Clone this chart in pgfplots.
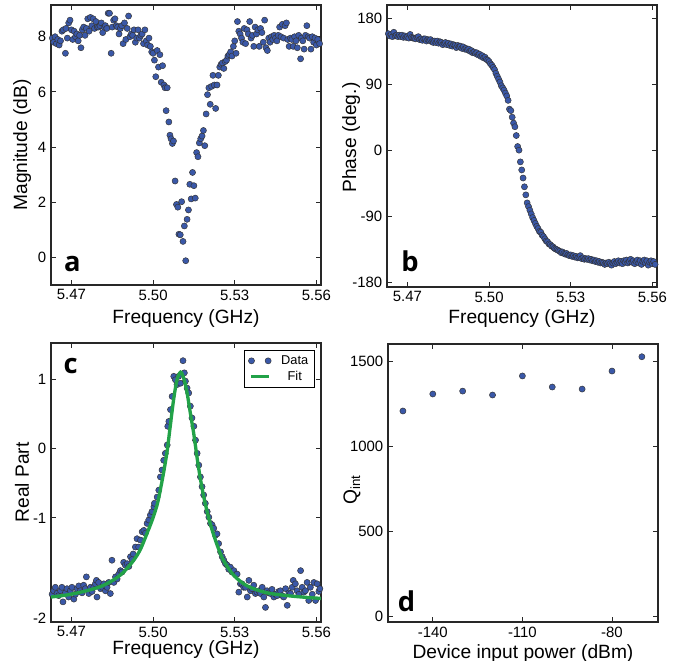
\documentclass[border=0pt]{standalone}
\usepackage{pgfplots}
\pgfplotsset{compat=1.18}
\usepackage{fontspec}
\setmainfont{Liberation Sans}
\newfontfamily\letterfont{Open Sans}
\definecolor{markblue}{RGB}{58,88,168}
\definecolor{fitgreen}{RGB}{34,162,72}
\definecolor{axgray}{RGB}{40,40,40}
\pgfplotsset{
  panel/.style={
    scale only axis, width=202.5pt,
    axis line style={axgray, line width=0.8pt},
    every tick/.style={axgray, line width=0.6pt},
    major tick length=3.5pt,
    tick align=inside,
    scaled x ticks=false, scaled y ticks=false,
    /pgf/number format/assume math mode=true,
    tick label style={font=\fontsize{11.2}{13}\selectfont, text=black},
    label style={font=\fontsize{14.4}{17}\selectfont},
  },
  freqaxis/.style={
    xmin=5.4625, xmax=5.5617,
    xtick={5.47,5.50,5.53,5.56},
    xticklabels={5.47,5.50,5.53,5.56},
    xlabel={Frequency (GHz)},
  },
  dots/.style={only marks, mark=*, mark size=2.3pt,
    mark options={fill=markblue, draw=black!80, line width=0.35pt}},
  datalegend/.style={legend image code/.code={\path[draw=none,fill=none] (-1pt,0pt) -- (21pt,0pt);
      \path[fill=markblue, draw=black!80, line width=0.35pt] (0.5pt,0pt) circle (2.3pt);
      \path[fill=markblue, draw=black!80, line width=0.35pt] (13pt,0pt) circle (2.3pt);}},
  fitlegend/.style={legend image code/.code={\path[draw=none,fill=none] (-1pt,0pt) -- (21pt,0pt);
      \draw[##1] (0pt,0pt) -- (13.5pt,0pt);}},
}
\begin{document}
\begin{tikzpicture}
\useasboundingbox (0pt,0pt) rectangle (507pt,495.75pt);

% ---------------- a ----------------
\begin{axis}[panel, freqaxis, at={(38.25pt,282pt)}, anchor=south west, height=210pt,
  ymin=-1, ymax=9.15, ytick={0,2,4,6,8},
  ylabel={Magnitude (dB)},
  ylabel style={at={(axis description cs:-0.107,0.5)}, anchor=center},
  xlabel style={at={(axis description cs:0.5,-0.139)}, anchor=base},
]
\addplot[dots] coordinates {
(5.4630,7.95)(5.4635,7.80)(5.4640,8.00)(5.4645,7.75)(5.4650,7.90)(5.4655,7.70)
(5.4660,7.85)(5.4665,8.20)(5.4670,8.25)(5.4678,7.40)(5.4680,8.30)(5.4685,7.95)
(5.4690,8.50)(5.4695,8.60)(5.4700,8.25)(5.4705,7.90)(5.4710,8.20)(5.4715,8.00)
(5.4720,8.10)(5.4725,7.85)(5.4730,8.05)(5.4735,7.60)(5.4740,8.25)(5.4745,8.35)
(5.4750,8.05)(5.4755,8.30)(5.4760,8.65)(5.4765,8.20)(5.4770,8.70)(5.4775,8.40)
(5.4780,8.65)(5.4785,8.30)(5.4790,8.55)(5.4795,8.35)(5.4800,8.35)(5.4805,8.40)
(5.4810,8.50)(5.4815,8.15)(5.4820,8.35)(5.4825,8.40)(5.4830,8.30)(5.4835,8.85)
(5.4840,8.85)(5.4846,7.40)(5.4850,8.35)(5.4855,8.60)(5.4860,8.65)(5.4865,8.40)
(5.4870,8.35)(5.4875,8.10)(5.4880,8.30)(5.4885,8.40)(5.4890,7.75)(5.4895,8.50)
(5.4900,7.90)(5.4905,8.30)(5.4910,8.75)(5.4915,8.00)(5.4920,8.10)(5.4925,8.05)
(5.4930,8.25)(5.4935,7.80)(5.4940,7.95)(5.4945,8.25)(5.4950,7.95)(5.4955,8.05)
(5.4960,8.10)(5.4965,7.75)(5.4970,8.25)(5.4975,7.85)(5.4980,7.70)(5.4985,7.95)
(5.4990,7.65)(5.4995,7.45)(5.5000,7.40)(5.5005,7.15)(5.5010,6.55)(5.5015,7.50)
(5.5020,6.90)(5.5025,7.35)(5.5030,6.35)(5.5035,6.95)(5.5040,6.25)(5.5044,6.15)
(5.5048,5.32)(5.5052,6.15)(5.5058,4.91)(5.5062,4.43)(5.5066,4.30)(5.5071,4.13)
(5.5075,4.22)(5.5081,2.77)(5.5086,1.92)(5.5091,1.82)(5.5095,0.84)(5.5100,0.82)
(5.5105,2.02)(5.5110,0.58)(5.5115,1.14)(5.5120,-0.12)(5.5125,1.38)(5.5130,1.72)
(5.5135,2.65)(5.5140,2.12)(5.5145,3.08)(5.5150,2.60)(5.5155,2.15)(5.5160,3.80)
(5.5165,3.65)(5.5170,4.15)(5.5175,4.30)(5.5180,4.40)(5.5185,4.60)(5.5190,4.05)
(5.5195,5.20)(5.5200,5.90)(5.5205,6.15)(5.5210,5.55)(5.5215,6.20)(5.5220,6.60)
(5.5225,6.25)(5.5230,5.40)(5.5235,6.25)(5.5240,6.60)(5.5245,6.90)(5.5250,7.00)
(5.5255,7.05)(5.5260,6.85)(5.5265,7.10)(5.5270,7.15)(5.5275,7.30)(5.5280,7.35)
(5.5285,7.45)(5.5290,7.30)(5.5295,7.65)(5.5300,7.85)(5.5305,7.40)(5.5310,8.55)
(5.5315,8.20)(5.5320,8.10)(5.5325,7.95)(5.5330,7.80)(5.5335,8.30)(5.5340,7.75)
(5.5345,8.25)(5.5350,8.10)(5.5355,8.55)(5.5360,7.95)(5.5365,8.05)(5.5370,7.65)
(5.5375,8.35)(5.5380,8.10)(5.5385,8.25)(5.5390,7.65)(5.5395,8.30)(5.5400,8.15)
(5.5405,7.80)(5.5410,8.60)(5.5415,7.60)(5.5420,7.50)(5.5425,7.95)(5.5430,7.80)
(5.5435,8.00)(5.5440,7.90)(5.5445,8.05)(5.5450,7.95)(5.5455,7.85)(5.5460,8.05)
(5.5465,8.35)(5.5470,8.00)(5.5475,8.45)(5.5480,7.95)(5.5485,8.40)(5.5490,8.50)
(5.5495,7.90)(5.5500,7.65)(5.5505,7.95)(5.5510,7.90)(5.5515,7.65)(5.5520,8.00)
(5.5525,7.85)(5.5530,7.60)(5.5535,8.05)(5.5542,7.20)(5.5545,7.95)(5.5550,7.85)
(5.5555,7.55)(5.5560,8.05)(5.5565,8.40)(5.5570,8.00)(5.5575,7.95)(5.5580,7.55)
(5.5585,8.00)(5.5590,7.80)(5.5595,7.95)(5.5600,7.70)(5.5605,7.90)(5.5612,7.75)
};
\node[anchor=base west, font=\letterfont\bfseries\fontsize{20.5}{20}\selectfont, inner sep=0pt]
  at (rel axis cs:0.048,0.0475) {a};
\end{axis}

% ---------------- b ----------------
\begin{axis}[panel, freqaxis, at={(290.25pt,280.5pt)}, anchor=south west, height=211.5pt,
  ymin=-186.8, ymax=198.2, ytick={-180,-90,0,90,180},
  ylabel={Phase (deg.)},
  ylabel style={at={(axis description cs:-0.133,0.53)}, anchor=center},
  xlabel style={at={(axis description cs:0.5,-0.131)}, anchor=base},
]
\addplot[dots] coordinates {
(5.4630,159)(5.4635,156)(5.4640,158)(5.4645,155)(5.4650,161)(5.4655,156)
(5.4660,157)(5.4665,155)(5.4670,157)(5.4675,155)(5.4680,157)(5.4685,154)
(5.4690,156)(5.4695,154)(5.4700,155)(5.4705,153)(5.4710,158)(5.4715,154)
(5.4720,153)(5.4725,153)(5.4730,152)(5.4735,154)(5.4740,155)(5.4745,151)
(5.4750,152)(5.4755,150)(5.4760,152)(5.4765,152)(5.4770,149)(5.4775,151)
(5.4780,150)(5.4785,151)(5.4790,148)(5.4795,147)(5.4800,149)(5.4805,147)
(5.4810,149)(5.4815,146)(5.4820,148)(5.4825,147)(5.4830,144)(5.4835,146)
(5.4840,147)(5.4845,144)(5.4850,146)(5.4855,143)(5.4860,145)(5.4865,142)
(5.4870,144)(5.4875,143)(5.4880,140)(5.4885,143)(5.4890,141)(5.4895,142)
(5.4900,139)(5.4905,141)(5.4910,138)(5.4915,139)(5.4920,137)(5.4925,138)
(5.4930,135)(5.4935,136)(5.4940,133)(5.4945,134)(5.4950,132)(5.4955,133)
(5.4960,130)(5.4965,131)(5.4970,128)(5.4975,129)(5.4980,126)(5.4985,127)
(5.4990,124)(5.4995,123)(5.5000,121)(5.5005,118)(5.5010,116)(5.5015,113)
(5.5020,110)(5.5025,105)(5.5030,101)(5.5035,97)(5.5040,93)(5.5045,88)
(5.5050,85)(5.5055,82)(5.5060,78)(5.5065,74)(5.5070,68)(5.5075,56)
(5.5080,54)(5.5085,45)(5.5090,37)(5.5095,32)(5.5100,20)(5.5105,5)
(5.5110,0)(5.5115,-16)(5.5120,-27)(5.5125,-38)(5.5130,-50)(5.5135,-61)
(5.5140,-72)(5.5145,-77)(5.5150,-82)(5.5155,-87)(5.5160,-92)(5.5165,-96)
(5.5170,-100)(5.5175,-104)(5.5180,-107)(5.5185,-111)(5.5190,-112)(5.5195,-116)
(5.5200,-118)(5.5205,-121)(5.5210,-124)(5.5215,-125)(5.5220,-128)(5.5225,-129)
(5.5230,-131)(5.5235,-132)(5.5240,-134)(5.5245,-135)(5.5250,-136)(5.5255,-137)
(5.5260,-138)(5.5265,-140)(5.5270,-139)(5.5275,-141)(5.5280,-142)(5.5285,-141)
(5.5290,-143)(5.5295,-144)(5.5300,-143)(5.5305,-145)(5.5310,-144)(5.5315,-146)
(5.5320,-145)(5.5325,-147)(5.5330,-146)(5.5335,-144)(5.5340,-148)(5.5345,-147)
(5.5350,-149)(5.5355,-148)(5.5360,-149)(5.5365,-148)(5.5370,-150)(5.5375,-149)
(5.5380,-151)(5.5385,-150)(5.5390,-152)(5.5395,-151)(5.5400,-153)(5.5405,-152)
(5.5410,-154)(5.5415,-153)(5.5420,-154)(5.5425,-156)(5.5430,-154)(5.5435,-155)
(5.5440,-153)(5.5445,-155)(5.5450,-157)(5.5455,-154)(5.5460,-152)(5.5465,-155)
(5.5470,-153)(5.5475,-151)(5.5480,-154)(5.5485,-152)(5.5490,-155)(5.5495,-151)
(5.5500,-153)(5.5505,-150)(5.5510,-154)(5.5515,-152)(5.5520,-149)(5.5525,-153)
(5.5530,-151)(5.5535,-155)(5.5540,-152)(5.5545,-150)(5.5550,-154)(5.5555,-151)
(5.5560,-156)(5.5565,-152)(5.5570,-150)(5.5575,-154)(5.5580,-151)(5.5585,-157)
(5.5590,-153)(5.5595,-151)(5.5600,-155)(5.5605,-152)(5.5610,-156)
};
\node[anchor=base west, font=\letterfont\bfseries\fontsize{20.5}{20}\selectfont, inner sep=0pt]
  at (rel axis cs:0.052,0.054) {b};
\end{axis}

% ---------------- c ----------------
\begin{axis}[panel, freqaxis, at={(38.25pt,29.25pt)}, anchor=south west, height=209.25pt,
  ymin=-2.50, ymax=1.52, ytick={-1,0,1},
  extra y ticks={-2.45}, extra y tick labels={-2},
  extra y tick style={major tick length=0pt},
  ylabel={Real Part},
  ylabel style={at={(axis description cs:-0.107,0.5)}, anchor=center},
  xlabel style={at={(axis description cs:0.5,-0.115)}, anchor=base},
  legend style={at={(0.978,0.975)}, anchor=north east, draw=black, line width=0.6pt,
    font=\fontsize{9.6}{11}\selectfont, inner xsep=3pt, inner ysep=2pt, row sep=0pt,
    nodes={inner sep=1.8pt}},
]
\addplot[dots, datalegend] coordinates {
(5.4629,-2.10)(5.4635,-2.05)(5.4641,-2.00)(5.4647,-2.09)(5.4653,-2.12)(5.4660,-2.05)
(5.4665,-2.00)(5.4669,-2.21)(5.4678,-2.08)(5.4684,-2.02)(5.4690,-2.14)(5.4696,-2.05)
(5.4702,-2.00)(5.4709,-2.17)(5.4715,-2.10)(5.4721,-2.02)(5.4727,-1.98)(5.4733,-2.05)
(5.4739,-2.08)(5.4745,-1.97)(5.4751,-2.02)(5.4755,-1.85)(5.4764,-2.09)(5.4770,-2.00)
(5.4776,-2.06)(5.4782,-2.00)(5.4788,-1.95)(5.4792,-1.90)(5.4794,-2.14)(5.4800,-1.93)
(5.4807,-2.02)(5.4813,-2.00)(5.4819,-1.95)(5.4825,-2.05)(5.4831,-2.00)(5.4837,-1.93)
(5.4843,-2.09)(5.4849,-1.61)(5.4856,-1.93)(5.4862,-1.85)(5.4868,-1.88)(5.4874,-1.81)
(5.4880,-1.76)(5.4886,-1.78)(5.4892,-1.64)(5.4898,-1.68)(5.4905,-1.66)(5.4911,-1.70)
(5.4917,-1.56)(5.4923,-1.60)(5.4927,-1.52)(5.4935,-1.42)(5.4941,-1.30)(5.4947,-1.42)
(5.4954,-1.32)(5.4960,-1.20)(5.4966,-1.18)(5.4972,-1.22)(5.4978,-1.08)(5.4984,-1.03)
(5.4990,-0.96)(5.4996,-0.91)(5.5003,-0.84)(5.5005,-0.79)(5.5015,-0.70)(5.5021,-0.60)
(5.5027,-0.41)(5.5033,-0.31)(5.5039,-0.17)(5.5045,-0.07)(5.5052,0.05)(5.5054,0.32)
(5.5058,0.39)(5.5064,0.56)(5.5070,0.75)(5.5076,1.04)(5.5082,0.99)(5.5088,0.92)
(5.5094,1.04)(5.5101,0.94)(5.5110,1.265)(5.5115,1.09)(5.5119,0.97)(5.5125,0.87)
(5.5131,0.80)(5.5137,0.61)(5.5143,0.44)(5.5150,0.32)(5.5156,0.12)(5.5162,-0.07)
(5.5168,-0.24)(5.5174,-0.41)(5.5180,-0.55)(5.5186,-0.67)(5.5192,-0.79)(5.5199,-0.91)
(5.5205,-0.99)(5.5211,-1.08)(5.5217,-1.10)(5.5223,-1.15)(5.5229,-1.25)(5.5235,-1.23)
(5.5241,-1.37)(5.5248,-1.49)(5.5254,-1.56)(5.5260,-1.61)(5.5266,-1.66)(5.5272,-1.68)
(5.5278,-1.74)(5.5284,-1.71)(5.5290,-1.78)(5.5297,-1.76)(5.5303,-1.82)(5.5309,-1.81)
(5.5315,-2.07)(5.5321,-1.95)(5.5327,-1.95)(5.5333,-2.00)(5.5340,-2.00)(5.5346,-2.14)
(5.5352,-1.90)(5.5358,-2.05)(5.5364,-2.02)(5.5370,-1.97)(5.5376,-2.09)(5.5382,-2.07)
(5.5389,-2.05)(5.5395,-2.09)(5.5401,-2.00)(5.5407,-2.14)(5.5413,-2.29)(5.5419,-2.05)
(5.5425,-2.08)(5.5431,-2.09)(5.5437,-2.03)(5.5444,-2.14)(5.5450,-2.10)(5.5456,-2.12)
(5.5462,-2.06)(5.5468,-2.05)(5.5474,-2.12)(5.5480,-2.14)(5.5487,-2.02)(5.5493,-2.26)
(5.5499,-2.08)(5.5505,-2.09)(5.5511,-2.00)(5.5515,-1.90)(5.5523,-1.95)(5.5529,-2.05)
(5.5536,-2.10)(5.5542,-1.76)(5.5548,-2.00)(5.5554,-2.07)(5.5560,-2.05)(5.5566,-1.93)
(5.5572,-2.19)(5.5578,-2.00)(5.5585,-2.10)(5.5591,-1.93)(5.5597,-2.19)(5.5603,-1.95)
(5.5609,-2.06)(5.5613,-2.02)
};
\addlegendentry{Data}
\addlegendimage{fitgreen, line width=2.5pt, fitlegend}
\addlegendentry{Fit}
\node[anchor=base west, font=\letterfont\bfseries\fontsize{20.5}{20}\selectfont, inner sep=0pt]
  at (rel axis cs:0.046,0.891) {c};
\end{axis}
% overlay axis: fit drawn above the data points
\begin{axis}[scale only axis, width=202.5pt, height=209.25pt,
  at={(38.25pt,29.25pt)}, anchor=south west, hide axis,
  xmin=5.4625, xmax=5.5617, ymin=-2.50, ymax=1.52]
\addplot[fitgreen, line width=2.5pt, smooth, tension=0.5] coordinates {
(5.4625,-2.14)(5.4684,-2.11)(5.4745,-2.06)(5.4807,-1.99)(5.4856,-1.89)
(5.4892,-1.78)(5.4929,-1.61)(5.4954,-1.45)(5.4978,-1.22)(5.4997,-1.03)
(5.5015,-0.81)(5.5027,-0.59)(5.5039,-0.34)(5.5052,-0.03)(5.5064,0.35)
(5.5076,0.72)(5.5088,0.99)(5.5101,1.10)(5.5113,1.01)(5.5125,0.80)
(5.5137,0.51)(5.5150,0.20)(5.5162,-0.14)(5.5174,-0.44)(5.5187,-0.71)
(5.5205,-1.01)(5.5223,-1.25)(5.5242,-1.46)(5.5260,-1.62)(5.5297,-1.83)
(5.5346,-1.98)(5.5419,-2.08)(5.5517,-2.13)(5.5617,-2.16)
};
\end{axis}

% ---------------- d ----------------
\begin{axis}[panel, at={(291pt,29.25pt)}, anchor=south west, height=208.5pt,
  xmin=-155, xmax=-64.6, ymin=-31, ymax=1604,
  xtick={-140,-110,-80}, ytick={0,500,1000,1500},
  xticklabels={-140,-110,-80}, yticklabels={0,500,1000,1500},
  xlabel={Device input power (dBm)},
  ylabel={Q\textsubscript{int}},
  ylabel style={at={(axis description cs:-0.133,0.475)}, anchor=center},
  xlabel style={at={(axis description cs:0.5,-0.131)}, anchor=base},
]
\addplot[dots] coordinates {
(-150,1210)(-140,1310)(-130,1327)(-120,1304)(-110,1416)(-100,1351)(-90,1339)(-80,1445)(-70,1529)
};
\node[anchor=base west, font=\letterfont\bfseries\fontsize{20.5}{20}\selectfont, inner sep=0pt]
  at (rel axis cs:0.036,0.037) {d};
\end{axis}
\end{tikzpicture}
\end{document}
